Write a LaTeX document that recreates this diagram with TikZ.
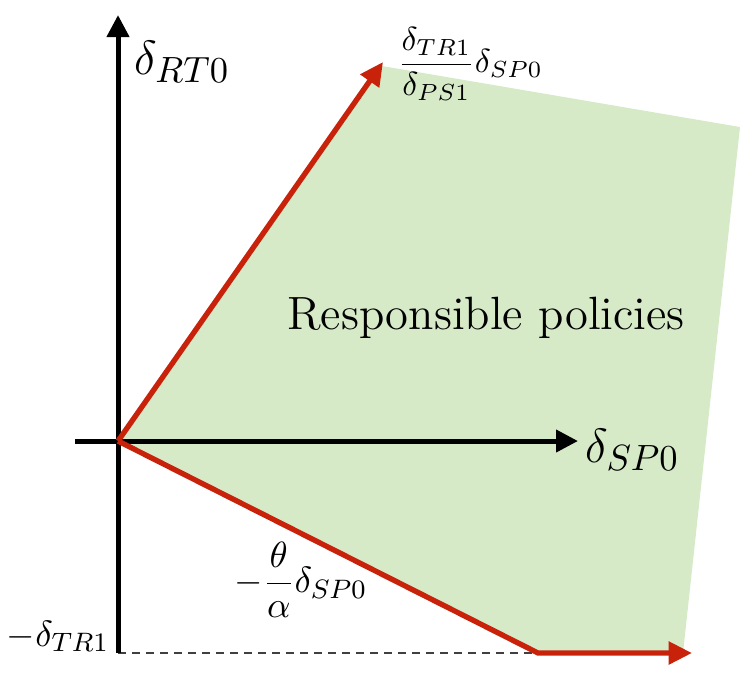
\documentclass[tikz,border=0pt]{standalone}
\usepackage{amsmath}
\usetikzlibrary{arrows.meta}
\definecolor{polred}{RGB}{200,35,10}
\definecolor{polgreen}{RGB}{214,234,200}
\begin{document}
\begin{tikzpicture}[x=0.3pt,y=-0.3pt,
  axis/.style={line width=1.5pt,-{Triangle[length=6.6pt,width=6.5pt]}},
  redarrow/.style={polred,line width=1.6pt,line join=miter,-{Triangle[length=7pt,width=6.6pt]}},
  guide/.style={black!75,line width=0.4pt,dash pattern=on 2.4pt off 1.8pt},
  biglabel/.style={font=\fontsize{15.5}{18}\selectfont,inner sep=0pt},
  midlabel/.style={font=\fontsize{11}{13}\selectfont,inner sep=0pt},
  smalllabel/.style={font=\fontsize{10.3}{12}\selectfont,inner sep=0pt}]
\useasboundingbox (0,0) rectangle (748,673);
% coordinates
\coordinate (O) at (118,441);
\coordinate (Ytop) at (118,15);
\coordinate (Ybot) at (118,653);
\coordinate (Xleft) at (75,441);
\coordinate (Xright) at (578,441);
\coordinate (T1) at (383,62);
\coordinate (B) at (538,653);
\coordinate (E) at (692,653);
\coordinate (G1) at (382,66);
\coordinate (G2) at (740,127);
\coordinate (G3) at (683,653);
% region
\fill[polgreen] (O) -- (G1) -- (G2) -- (G3) -- (B) -- cycle;
% dashed guide
\draw[guide] (Ybot) -- (B);
% axes
\draw[axis] (Ybot) -- (Ytop);
\draw[axis] (Xleft) -- (Xright);
% red boundaries
\draw[redarrow] (O) -- (T1);
\draw[redarrow] (O) -- (B) -- (E);
% labels
\node[biglabel,anchor=base west] (lrt) at (134,74) {$\delta_{RT0}$};
\node[biglabel,anchor=base west] (lsp) at (585,462) {$\delta_{SP0}$};
\node[font=\fontsize{14}{17}\selectfont,inner sep=0pt] (resp) at (486,318) {Responsible policies};
\node[smalllabel,anchor=west] (lfrac) at (397,64) {$\dfrac{\delta_{TR1}}{\delta_{PS1}}\delta_{SP0}$};
\node[midlabel,anchor=west] (ltheta) at (234,580) {$-\dfrac{\theta}{\alpha}\delta_{SP0}$};
\node[midlabel,anchor=base east] (ltr) at (110,646) {$-\delta_{TR1}$};
\end{tikzpicture}
\end{document}
